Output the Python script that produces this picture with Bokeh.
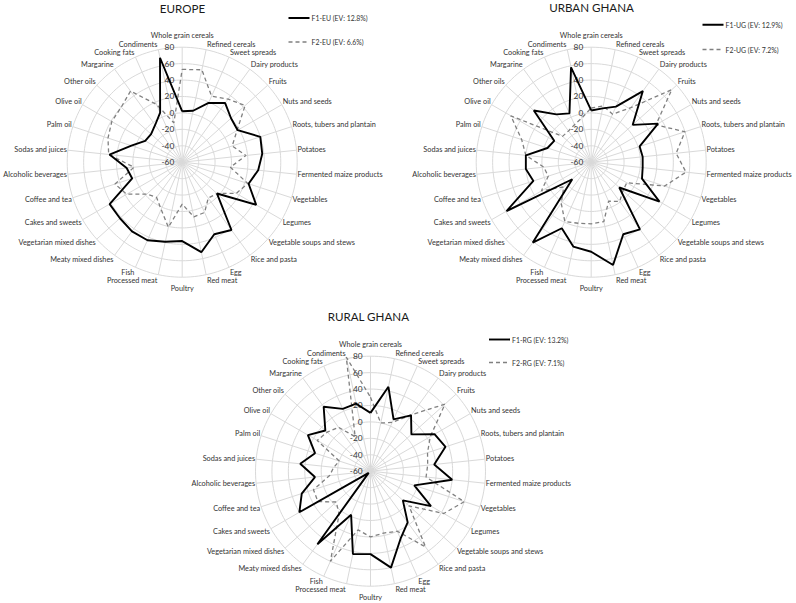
import math
from bokeh.plotting import figure
from bokeh.models import Range1d
from bokeh.core.properties import value
from bokeh.embed import file_html
from bokeh.resources import INLINE

categories = ["Whole grain cereals", "Refined cereals", "Sweet spreads", "Dairy products",
              "Fruits", "Nuts and seeds", "Roots, tubers and plantain", "Potatoes",
              "Fermented maize products", "Vegetables", "Legumes", "Vegetable soups and stews",
              "Rice and pasta", "Egg", "Red meat", "Poultry", "Processed meat", "Fish",
              "Meaty mixed dishes", "Vegetarian mixed dishes", "Cakes and sweets",
              "Coffee and tea", "Alcoholic beverages", "Sodas and juices", "Palm oil",
              "Olive oil", "Other oils", "Margarine", "Cooking fats", "Condiments"]
ticks = [-60, -40, -20, 0, 20, 40, 60, 80]

eu_f1 = [2, 4, 19, 29, 20, 18, 40, 38, 33, 25, 44, -3, 42, 36, 52, 36, 39, 44, 44, 42,
         42, 4, 8, 29, 5, -8, -9, -4, 6, 70]
eu_f2 = [53, 55, 28, 35, 43, 17, 4, 18, -1, 24, 16, -3, -6, 7, 8, -9, 21, 3, -7, -2,
         18, 26, -1, 30, 35, 39, 40, 47, 17, -11]
ug_f1 = [3, 7, 14, 47, 8, 34, 2, 3, 3, 5, 36, -14, 41, 36, 68, 49, 45, 28, 61, -29,
         59, 14, 20, 20, -4, -8, 34, 12, 5, 58]
ug_f2 = [6, 10, 4, 22, 72, 31, 60, 44, 56, 34, -10, -8, -1, -8, 14, 15, 16, 19, 2, -15,
         10, -5, -2, 20, 29, 53, -13, -13, -10, -5]
rg_f1 = [11, 45, 9, 24, 7, 30, 36, 18, 40, -4, 25, -7, 17, 30, 60, 41, 43, -2, 50, -57,
         40, 28, 8, 26, 11, 28, 14, 37, 23, 24]
rg_f2 = [30, 0, 5, 25, 62, 24, 13, 10, 8, 60, 43, 3, 54, 20, 17, 20, 13, 60, 5, -4,
         14, 13, -10, -15, -20, 15, 11, 6, -14, 82]

panels = [
    dict(title="EUROPE", f1=eu_f1, f2=eu_f2, l1="F1-EU (EV: 12.8%)", l2="F2-EU (EV: 6.6%)",
         c=(181.7, 161.7), title_pos=(182, 7.5), leg=(288, 17.5, 41.5)),
    dict(title="URBAN GHANA", f1=ug_f1, f2=ug_f2, l1="F1-UG (EV: 12.9%)", l2="F2-UG (EV: 7.2%)",
         c=(590.7, 161.7), title_pos=(591, 7), leg=(702, 24.3, 49)),
    dict(title="RURAL GHANA", f1=rg_f1, f2=rg_f2, l1="F1-RG (EV: 13.2%)", l2="F2-RG (EV: 7.1%)",
         c=(370.0, 470.7), title_pos=(368, 316), leg=(488.5, 339, 362)),
]

W, H = 796, 603
p = figure(width=W, height=H, x_range=Range1d(0, W), y_range=Range1d(H, 0),
           output_backend="svg", toolbar_location=None, min_border=0,
           x_axis_location=None, y_axis_location=None)
p.grid.visible = False
p.outline_line_color = None

VMIN, VMAX = ticks[0], ticks[-1]
RMAX = 115.0
scale = RMAX / (VMAX - VMIN)
N = len(categories)
FONT = value("Lato")
TXT = "#333333"


def rad(v):
    return (v - VMIN) * scale


for pn in panels:
    cx, cy = pn["c"]
    angs = [math.radians(90 - 360.0 / N * i) for i in range(N)]
    # rings
    xs, ys = [], []
    for t in ticks[1:]:
        r = rad(t)
        xs.append([cx + r * math.cos(2 * math.pi * k / 180) for k in range(181)])
        ys.append([cy - r * math.sin(2 * math.pi * k / 180) for k in range(181)])
    p.multi_line(xs, ys, line_color="#d9d9d9", line_width=1)
    # spokes
    p.multi_line([[cx, cx + RMAX * math.cos(a)] for a in angs],
                 [[cy, cy - RMAX * math.sin(a)] for a in angs],
                 line_color="#d9d9d9", line_width=1)
    # tick labels
    p.text([cx - 8] * len(ticks), [cy - rad(t) for t in ticks], text=[str(t) for t in ticks],
           text_font=FONT, text_font_size="8.3px", text_color=TXT,
           text_align="right", text_baseline="middle")
    # category labels
    for name, a in zip(categories, angs):
        c, s = math.cos(a), math.sin(a)
        ex, ey = cx + RMAX * c, cy - RMAX * s
        if abs(c) < 0.05:
            align, x, y = "center", ex, ey - s * 11.5
        elif c > 0:
            align, x, y = "left", ex + 1, ey - s * 5.5
        else:
            align, x, y = "right", ex - 1, ey - s * 5.5
        p.text([x], [y], text=[name], text_font=FONT, text_font_size="7.3px",
               text_color=TXT, text_align=align, text_baseline="middle")
    # series
    for vals, kw in ((pn["f2"], dict(line_color="#808080", line_width=1.3, line_dash="4 3")),
                     (pn["f1"], dict(line_color="#000000", line_width=1.9))):
        px = [cx + rad(v) * math.cos(a) for v, a in zip(vals, angs)]
        py = [cy - rad(v) * math.sin(a) for v, a in zip(vals, angs)]
        p.line(px + px[:1], py + py[:1], **kw)
    # title
    tx, ty = pn["title_pos"]
    p.text([tx], [ty], text=[pn["title"]], text_font=FONT, text_font_size="11.6px",
           text_color="#1a1a1a", text_align="center", text_baseline="middle")
    # legend
    lx, y1, y2 = pn["leg"]
    p.line([lx, lx + 21], [y1, y1], line_color="#000000", line_width=1.9)
    p.line([lx, lx + 21], [y2, y2], line_color="#808080", line_width=1.3, line_dash="4 3")
    p.text([lx + 23, lx + 23], [y1, y2], text=[pn["l1"], pn["l2"]], text_font=FONT,
           text_font_size="6.9px", text_color=TXT, text_align="left", text_baseline="middle")

open("out.html", "w").write(file_html(p, INLINE))
